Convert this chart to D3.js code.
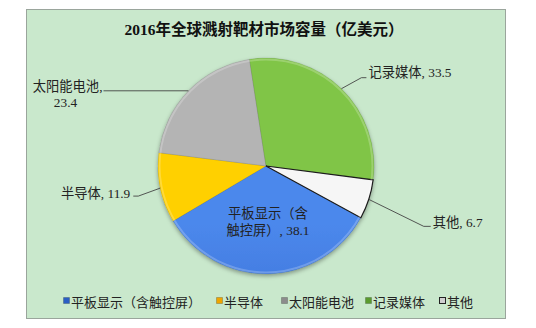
<!DOCTYPE html>
<html>
<head>
<meta charset="utf-8">
<script src="https://cdn.jsdelivr.net/npm/d3@7"></script>
<style>
  html, body { margin: 0; padding: 0; background: #fff; }
  svg { display: block; }
</style>
</head>
<body>
<svg id="chart" width="536" height="328"></svg>
<script>
// data
const categories = ["平板显示（含触控屏）", "半导体", "太阳能电池", "记录媒体", "其他"];
const values = [38.1, 11.9, 23.4, 33.5, 6.7];
const title = "2016年全球溅射靶材市场容量（亿美元）";

const colors = [
  ["#4c88ec", "#2a5ec4"],
  ["#ffd000", "#efa500"],
  ["#b4b4b4", "#8c8c8c"],
  ["#80c546", "#5a9b2e"],
  ["#f6f6f6", "#d0d0d0"]
];

const width = 536, height = 328;
const cx = 266, cy = 166, r = 108;
const serif = "'Liberation Serif', 'Noto Sans CJK SC', serif";

const svg = d3.select("#chart");
const defs = svg.append("defs");

colors.forEach((c, i) => {
  const g = defs.append("linearGradient")
    .attr("id", "grad" + i)
    .attr("gradientUnits", "userSpaceOnUse")
    .attr("x1", 0).attr("y1", cy - r)
    .attr("x2", 0).attr("y2", cy + r);
  g.append("stop").attr("offset", "0%").attr("stop-color", c[0]);
  g.append("stop").attr("offset", "100%").attr("stop-color", c[1]);
});

const filt = defs.append("filter").attr("id", "shadow")
  .attr("x", "-20%").attr("y", "-20%").attr("width", "140%").attr("height", "140%");
filt.append("feDropShadow").attr("dx", 0).attr("dy", 2).attr("stdDeviation", 2)
  .attr("flood-color", "#000").attr("flood-opacity", 0.35);

// chart area
svg.append("rect")
  .attr("x", 26.5).attr("y", 9.5)
  .attr("width", 479).attr("height", 309)
  .attr("fill", "#c9e8cc")
  .attr("stroke", "#9aa59c");

svg.append("text")
  .attr("x", 264).attr("y", 35)
  .attr("text-anchor", "middle")
  .attr("font-family", serif)
  .attr("font-weight", "bold")
  .attr("font-size", 15.5)
  .attr("fill", "#111")
  .text(title);

// pie
const toRad = d => d * Math.PI / 180;
const pie = d3.pie().sort(null)
  .startAngle(toRad(118.6))
  .endAngle(toRad(118.6 + 360));
const arcs = pie(values);
const arc = d3.arc().innerRadius(0).outerRadius(r);

const g = svg.append("g").attr("transform", `translate(${cx},${cy})`);
g.append("g").attr("filter", "url(#shadow)")
  .selectAll("path")
  .data(arcs)
  .join("path")
  .attr("d", arc)
  .attr("fill", (d, i) => `url(#grad${i})`)
  .attr("stroke", (d, i) => i === 4 ? "#1a1a1a" : "rgba(0,0,0,0.15)")
  .attr("stroke-width", (d, i) => i === 4 ? 1.2 : 0.6);

// soft rim highlight
g.append("circle").attr("r", r - 1.5)
  .attr("fill", "none")
  .attr("stroke", "rgba(255,255,255,0.22)")
  .attr("stroke-width", 2);

// leader layout: bend/end offsets from the slice edge point, text offset
const edge = a => {
  const m = (a.startAngle + a.endAngle) / 2;
  return [cx + r * Math.sin(m), cy - r * Math.cos(m)];
};
const labelLayout = [
  null,
  { bend: [-22, 8], end: [-27, 8], anchor: "end", tx: -30, ty: 9.5 },
  { bend: [-85, 0], end: [-85, 0], anchor: "end", tx: -86, ty: 0.5 },
  { bend: [20, -11], end: [25, -11], anchor: "start", tx: 27, ty: -11.5 },
  { bend: [55, 27], end: [62, 27], anchor: "start", tx: 64, ty: 27.5 }
];

const labels = svg.append("g")
  .attr("font-family", serif)
  .attr("font-size", 13.3)
  .attr("fill", "#222");

arcs.forEach((a, i) => {
  const L = labelLayout[i];
  const val = d3.format(".1f")(values[i]);
  if (!L) {
    const [x, y] = arc.centroid(a);
    const t = labels.append("text")
      .attr("text-anchor", "middle")
      .attr("y", cy + y - 2);
    t.append("tspan").attr("x", cx + x + 1).attr("dy", 0).text("平板显示（含");
    t.append("tspan").attr("x", cx + x + 1).attr("dy", 17).text("触控屏）, " + val);
    return;
  }
  const [ex, ey] = edge(a);
  labels.append("polyline")
    .attr("points", [[ex, ey], [ex + L.bend[0], ey + L.bend[1]], [ex + L.end[0], ey + L.end[1]]].join(" "))
    .attr("fill", "none")
    .attr("stroke", "#444")
    .attr("stroke-width", 0.9);
  if (i === 2) {
    labels.append("text")
      .attr("text-anchor", "end")
      .attr("x", ex + L.tx).attr("y", ey + L.ty)
      .text(categories[i] + ",");
    labels.append("text")
      .attr("text-anchor", "middle")
      .attr("x", ex + L.tx - 37).attr("y", ey + L.ty + 16)
      .text(val);
  } else {
    labels.append("text")
      .attr("text-anchor", L.anchor)
      .attr("x", ex + L.tx).attr("y", ey + L.ty)
      .text(categories[i] + ", " + val);
  }
});

// legend
const legendX = [63, 216, 281, 365, 439];
const legend = svg.append("g")
  .attr("font-family", "'Noto Sans CJK SC', sans-serif")
  .attr("font-size", 13)
  .attr("fill", "#222");
categories.forEach((c, i) => {
  const x = legendX[i];
  legend.append("rect")
    .attr("x", x + 0.5).attr("y", 297.5)
    .attr("width", 6).attr("height", 6)
    .attr("fill", colors[i][1])
    .attr("stroke", i === 4 ? "#222" : "rgba(0,0,0,0.2)")
    .attr("stroke-width", 1);
  legend.append("text")
    .attr("x", x + 8).attr("y", 306.5)
    .text(c);
});
</script>
</body>
</html>
